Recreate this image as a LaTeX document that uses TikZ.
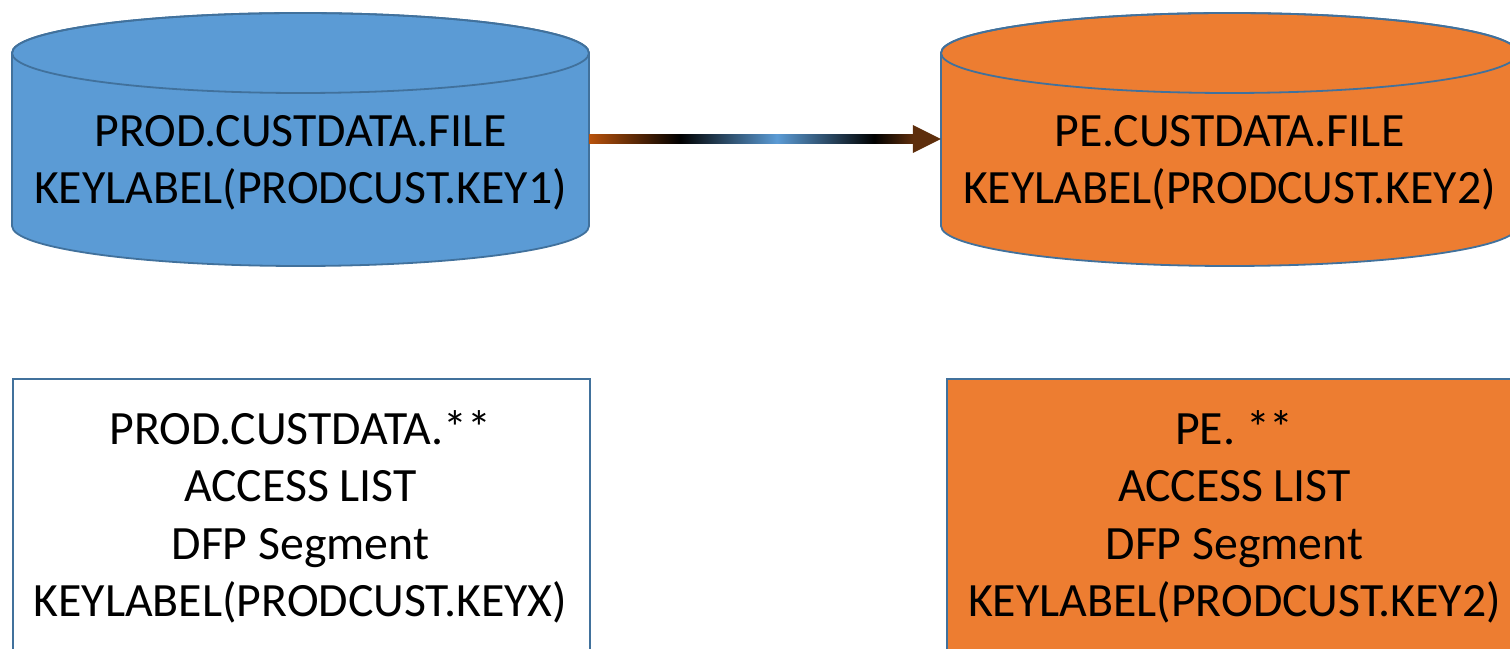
\documentclass[tikz,border=0pt]{standalone}
\usepackage{fontspec}
\setmainfont{Carlito}
\usetikzlibrary{calc}
\definecolor{cblue}{HTML}{5B9BD5}
\definecolor{corange}{HTML}{ED7D31}
\definecolor{cline}{HTML}{41719C}
\definecolor{arrA}{HTML}{B8520C}
\definecolor{arrB}{HTML}{5B9BD5}
\definecolor{arrC}{HTML}{5E2E0C}
\pgfdeclarehorizontalshading{arrsh}{100bp}{color(0bp)=(arrA); color(25bp)=(arrA); color(39bp)=(black); color(54bp)=(arrB); color(69bp)=(black); color(75bp)=(arrC); color(100bp)=(arrC)}
\tikzset{
  outline/.style={draw=cline, line width=1.8pt},
  txt/.style={align=center, font=\fontsize{47.8}{57.5}\selectfont, text=black, inner sep=0pt},
  area/.style={minimum width=577pt, minimum height=253pt, inner sep=0pt}
}
\begin{document}
\begin{tikzpicture}[x=1pt,y=1pt]
\useasboundingbox (0,0) rectangle (1510,648);
\clip (0,0) rectangle (1510,648);
% left cylinder
\path[outline, fill=cblue] (12,595) -- (12,422) arc[start angle=180, end angle=360, x radius=288.5, y radius=40] -- (589,595) arc[start angle=0, end angle=180, x radius=288.5, y radius=40] -- cycle;
\draw[outline] (300.5,595) ellipse[x radius=288.5, y radius=40];
% right cylinder
\path[outline, fill=corange] (941,595) -- (941,422) arc[start angle=180, end angle=360, x radius=288.5, y radius=40] -- (1518,595) arc[start angle=0, end angle=180, x radius=288.5, y radius=40] -- cycle;
\draw[outline] (1229.5,595) ellipse[x radius=288.5, y radius=40];
\node[area] (src) at (300.5,509) {};
\node[area] (dst) at (1229.5,509) {};
\node[txt] (srct) at (300.5,485) {PROD.CUSTDATA.FILE\\KEYLABEL(PRODCUST.KEY1)};
\node[txt] (dstt) at (1229.5,485) {PE.CUSTDATA.FILE\\KEYLABEL(PRODCUST.KEY2)};
% arrow
\shade[shading=arrsh] ($(src.east)+(0,4.5)$) rectangle ($(dst.west)+(-28,-4.5)$);
\fill[arrC] ($(dst.west)+(-28,14)$) -- (dst.west) -- ($(dst.west)+(-28,-14)$) -- cycle;
% boxes
\node[outline, fill=white, minimum width=577pt, minimum height=300pt, inner sep=0pt, anchor=north west] (lbox) at (12,270) {};
\node[outline, fill=corange, minimum width=577pt, minimum height=300pt, inner sep=0pt, anchor=north west] (rbox) at (946,270) {};
\node[txt] (lboxt) at (300.5,131) {PROD.CUSTDATA.**\\ACCESS LIST\\DFP Segment\\KEYLABEL(PRODCUST.KEYX)};
\node[txt] (rboxt) at (1234.5,131) {PE. **\\ACCESS LIST\\DFP Segment\\KEYLABEL(PRODCUST.KEY2)};
\end{tikzpicture}
\end{document}
